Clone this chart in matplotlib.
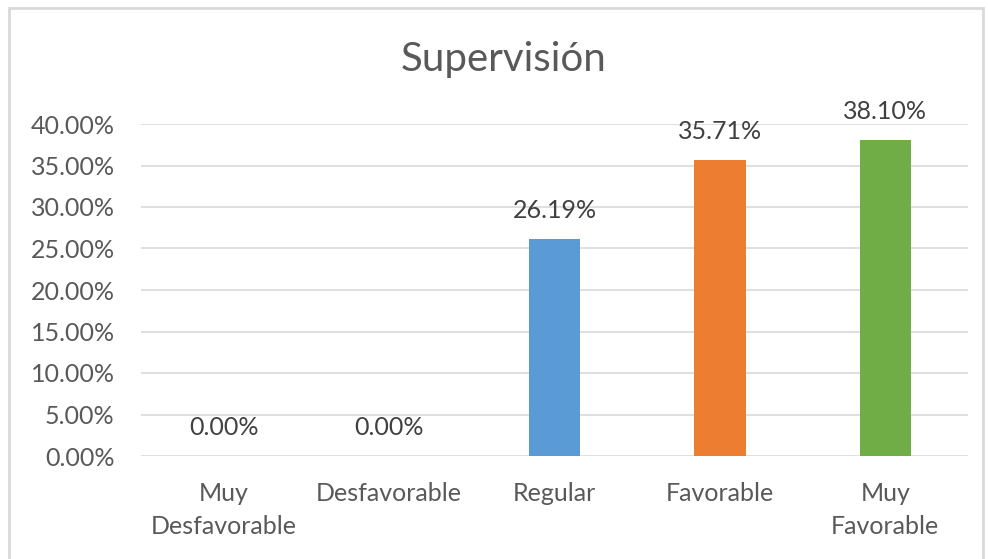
import matplotlib
matplotlib.use("Agg")
import matplotlib.pyplot as plt
from matplotlib.patches import Rectangle
import numpy as np

categories = ["Muy\nDesfavorable", "Desfavorable", "Regular", "Favorable", "Muy\nFavorable"]
values = [0.0, 0.0, 26.19, 35.71, 38.10]
colors = ["#5B9BD5", "#5B9BD5", "#5B9BD5", "#ED7D31", "#70AD47"]
yticks = [0, 5, 10, 15, 20, 25, 30, 35, 40]

plt.rcParams['font.family'] = ['Lato', 'DejaVu Sans']
W, H = 988, 559
fig = plt.figure(figsize=(W/100, H/100), dpi=100)
ax = fig.add_axes([141/W, 1-456/H, (968-141)/W, (456-124)/H])

FS = 18
x = np.arange(len(categories))
ax.bar(x, values, width=0.31, color=colors, zorder=3)
ax.set_xlim(-0.5, len(categories)-0.5)
ax.set_ylim(0, 40)
ax.set_yticks(yticks)
ax.set_yticklabels([f"{v:.2f}%" for v in yticks])
ax.set_xticks(x)
ax.set_xticklabels(categories, linespacing=1.5)
ax.tick_params(axis='both', length=0, labelsize=FS, colors="#595959")
ax.tick_params(axis='y', pad=19)
ax.tick_params(axis='x', pad=19)
ax.grid(axis='y', color="#d9d9d9", linewidth=1.2, zorder=0)
for s in ax.spines.values():
    s.set_visible(False)

for xi, v in zip(x, values):
    ax.annotate(f"{v:.2f}%", (xi, v), xytext=(0, 12), textcoords="offset points",
                ha='center', va='bottom', fontsize=FS, color="#404040")

fig.text(504/W, 1-60/H, "Supervisión", ha='center', va='center', fontsize=29, color="#595959")

fig.patches.append(Rectangle((9/W, -0.02), (983-9)/W, 1-8/H+0.02, transform=fig.transFigure,
                             fill=False, edgecolor="#d9d9d9", linewidth=2))

fig.savefig("out.png", dpi=100)
